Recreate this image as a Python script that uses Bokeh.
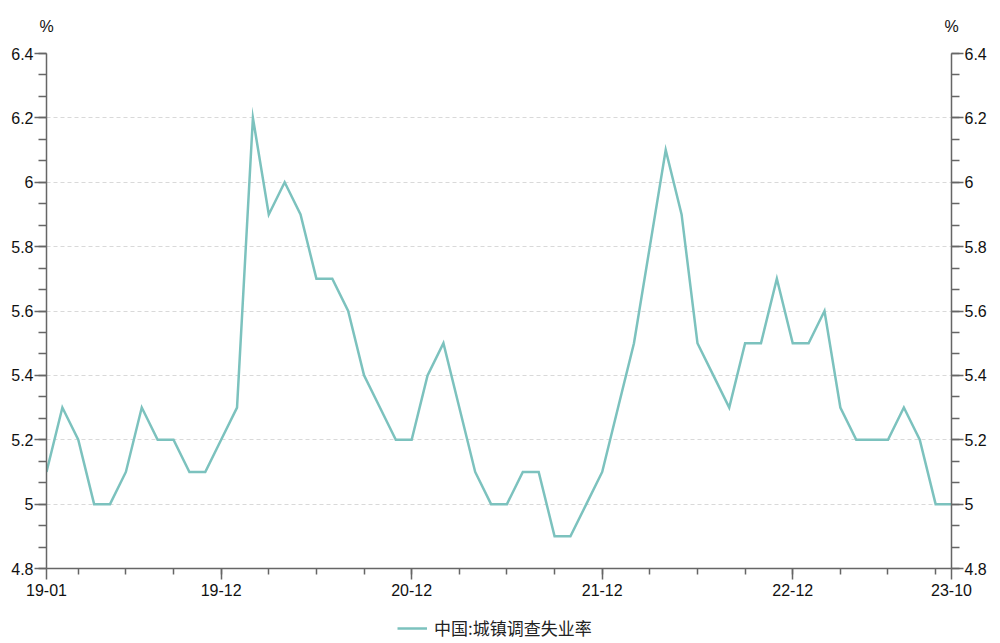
from bokeh.plotting import figure
from bokeh.layouts import column
from bokeh.models import (FixedTicker, LinearAxis, Legend, LegendItem, Range1d,
                          ColumnDataSource)
from bokeh.embed import file_html
from bokeh.resources import INLINE

months = [
    "19-01","19-02","19-03","19-04","19-05","19-06","19-07","19-08","19-09","19-10","19-11","19-12",
    "20-01","20-02","20-03","20-04","20-05","20-06","20-07","20-08","20-09","20-10","20-11","20-12",
    "21-01","21-02","21-03","21-04","21-05","21-06","21-07","21-08","21-09","21-10","21-11","21-12",
    "22-01","22-02","22-03","22-04","22-05","22-06","22-07","22-08","22-09","22-10","22-11","22-12",
    "23-01","23-02","23-03","23-04","23-05","23-06","23-07","23-08","23-09","23-10",
]
rate = [
    5.1, 5.3, 5.2, 5.0, 5.0, 5.1, 5.3, 5.2, 5.2, 5.1, 5.1, 5.2,
    5.3, 6.2, 5.9, 6.0, 5.9, 5.7, 5.7, 5.6, 5.4, 5.3, 5.2, 5.2,
    5.4, 5.5, 5.3, 5.1, 5.0, 5.0, 5.1, 5.1, 4.9, 4.9, 5.0, 5.1,
    5.3, 5.5, 5.8, 6.1, 5.9, 5.5, 5.4, 5.3, 5.5, 5.5, 5.7, 5.5,
    5.5, 5.6, 5.3, 5.2, 5.2, 5.2, 5.3, 5.2, 5.0, 5.0,
]
x_tick_labels = ["19-01", "19-12", "20-12", "21-12", "22-12", "23-10"]
y_ticks = [4.8, 5.0, 5.2, 5.4, 5.6, 5.8, 6.0, 6.2, 6.4]
series_name = "中国:城镇调查失业率"
unit = "%"

LINE_COLOR = "#7cc2be"
AXIS_COLOR = "#666666"
FONT = "Liberation Sans"

idx = list(range(len(months)))
src = ColumnDataSource(dict(x=idx, y=rate))

p = figure(frame_width=905, frame_height=515, output_backend="svg", toolbar_location=None,
           x_range=Range1d(0, len(months) - 1), y_range=Range1d(y_ticks[0], y_ticks[-1]),
           min_border_left=46, min_border_right=44, min_border_top=53, min_border_bottom=40,
           x_axis_location="below", y_axis_location="left")
p.outline_line_color = None
p.background_fill_color = "white"
p.border_fill_color = "white"

r = p.line("x", "y", source=src, line_color=LINE_COLOR, line_width=2.5, line_join="miter")

# x axis
major_x = [months.index(l) for l in x_tick_labels]
minor_x = [i for i in idx if i % 3 == 2]
xa = p.xaxis[0]
xa.ticker = FixedTicker(ticks=major_x, minor_ticks=minor_x)
xa.major_label_overrides = {i: months[i] for i in major_x}
xa.axis_line_color = AXIS_COLOR
xa.axis_line_width = 1.5
xa.major_tick_line_color = AXIS_COLOR
xa.minor_tick_line_color = AXIS_COLOR
xa.major_tick_line_width = 1.5
xa.minor_tick_line_width = 1.5
xa.major_tick_out = 11
xa.major_tick_in = 0
xa.minor_tick_out = 6
xa.minor_tick_in = 0
xa.major_label_text_font = FONT
xa.major_label_text_font_size = "16px"
xa.major_label_text_color = "#111111"
xa.major_label_standoff = 4

# y axes
minor_y = [round(4.8 + k * 0.2 / 3, 4) for k in range(25)]
def style_y(ax):
    ax.ticker = FixedTicker(ticks=y_ticks, minor_ticks=minor_y)
    ax.major_label_overrides = {4.8: "4.8", 5.0: "5", 5.2: "5.2", 5.4: "5.4", 5.6: "5.6",
                                5.8: "5.8", 6.0: "6", 6.2: "6.2", 6.4: "6.4"}
    ax.axis_line_color = AXIS_COLOR
    ax.axis_line_width = 1.5
    ax.major_tick_line_color = AXIS_COLOR
    ax.minor_tick_line_color = AXIS_COLOR
    ax.major_tick_line_width = 1.5
    ax.minor_tick_line_width = 1.5
    ax.major_tick_out = 12
    ax.major_tick_in = 0
    ax.minor_tick_out = 8
    ax.minor_tick_in = 0
    ax.major_label_text_font = FONT
    ax.major_label_text_font_size = "16px"
    ax.major_label_text_color = "#111111"
    ax.major_label_standoff = 1

style_y(p.yaxis[0])
ry = LinearAxis()
style_y(ry)
p.add_layout(ry, "right")

# unit "%" labels above both y axes, via a bare top axis
ta = LinearAxis(ticker=FixedTicker(ticks=[0, len(months) - 1], minor_ticks=[]),
                major_label_overrides={0: unit, len(months) - 1: unit})
ta.axis_line_color = None
ta.major_tick_line_color = None
ta.minor_tick_line_color = None
ta.major_label_text_font = FONT
ta.major_label_text_font_size = "16px"
ta.major_label_text_color = "#111111"
ta.major_label_standoff = 13
p.add_layout(ta, "above")

p.xgrid.visible = False
p.ygrid.ticker = FixedTicker(ticks=y_ticks[1:])
p.ygrid.grid_line_color = "#d9d9d9"
p.ygrid.grid_line_dash = "4 3"
p.ygrid.grid_line_width = 1

# legend strip below the chart (a small figure whose frame holds only the legend;
# its line uses the same data, which lies outside this strip's range)
lg = figure(width=995, height=35, output_backend="svg", toolbar_location=None,
            x_axis_location=None, y_axis_location=None, min_border=0,
            x_range=Range1d(0, 1), y_range=Range1d(0, 1))
lg.outline_line_color = None
lg.background_fill_color = "white"
lg.border_fill_color = "white"
lg.xgrid.visible = False
lg.ygrid.visible = False
lg_r = lg.line("x", "y", source=src, line_color=LINE_COLOR, line_width=2.5)
legend = Legend(items=[LegendItem(label=series_name, renderers=[lg_r])],
                orientation="horizontal", location=(351, 3),
                border_line_color=None, background_fill_alpha=0,
                label_text_font="Noto Sans CJK SC", label_text_font_size="17px",
                label_text_color="#222222", glyph_width=30, glyph_height=16,
                padding=2, margin=0, label_standoff=7)
lg.add_layout(legend, "center")

layout = column(p, lg, spacing=0)
open("out.html", "w").write(file_html(layout, INLINE))
